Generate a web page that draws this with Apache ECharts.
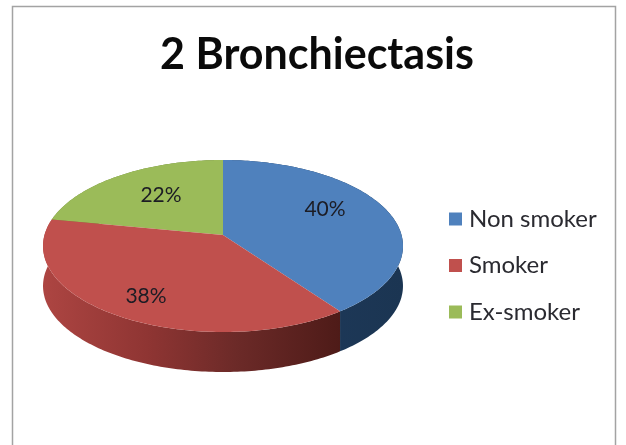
<!DOCTYPE html>
<html><head><meta charset="utf-8">
<style>html,body{margin:0;padding:0;background:#fff}#c{width:626px;height:445px}</style>
<script src="https://cdn.jsdelivr.net/npm/echarts@6/dist/echarts.min.js"></script>
</head><body><div id="c"></div>
<script>
const categories = ['Non smoker', 'Smoker', 'Ex-smoker'];
const values = [40, 38, 22];
const colors = ['#4F81BD', '#C0504D', '#9BBB59'];
const sideStops = [
  [[0, '#1F3B5E'], [1, '#1B3552']],
  [[0, '#AD4542'], [0.35, '#8F3533'], [0.65, '#6C2A28'], [1, '#4E1B18']],
  [[0, '#76903F'], [1, '#5F7632']]
];
const labelAnchors = [[325, 209], [146, 296], [161, 195]];

// perspective pie: projected disc with tilted viewpoint
const view = { cx: 223, cy: 235, a: 178.5, b: 84.6, k: 0.128, depth: 40 };
const total = values.reduce((s, v) => s + v, 0);
function rim(turn) {
  const t = turn * 2 * Math.PI, u = Math.sin(t), v = -Math.cos(t), w = 1 - view.k * v;
  return [view.cx + view.a * u / w, view.cy + view.b * v / w];
}
function arc(from, to) {
  const pts = [], n = Math.max(2, Math.ceil((to - from) * 360));
  for (let i = 0; i <= n; i++) pts.push(rim(from + (to - from) * i / n));
  return pts;
}
function makeRender(idx) {
  return function (params, api) {
    const value = api.value(0), start = api.value(1);
    const from = start / total, to = (start + value) / total;
    const edge = arc(from, to);
    const lower = edge.map(p => [p[0], p[1] + view.depth]).reverse();
    return {
      type: 'group',
      children: [
        { type: 'polygon', shape: { points: edge.concat(lower) },
          style: { fill: { type: 'linear', x: 0, y: 0, x2: 1, y2: 0,
            colorStops: sideStops[idx].map(s => ({ offset: s[0], color: s[1] })) } } },
        { type: 'polygon', shape: { points: [[view.cx, view.cy]].concat(edge) },
          style: { fill: colors[idx] } },
        { type: 'text', z2: 5, style: { x: labelAnchors[idx][0], y: labelAnchors[idx][1],
            text: value + '%', fill: '#1c1c24', font: '21px Lato', align: 'center', verticalAlign: 'middle' } }
      ]
    };
  };
}
let acc = 0;
const series = categories.map((name, i) => {
  const s = {
    type: 'custom', name, coordinateSystem: 'none', silent: true, animation: false,
    z: i === 2 ? 1 : 2,
    itemStyle: { color: colors[i] },
    data: [[values[i], acc]],
    renderItem: makeRender(i)
  };
  acc += values[i];
  return s;
});
const chart = echarts.init(document.getElementById('c'), null, { renderer: 'canvas' });
chart.setOption({
  backgroundColor: '#fff',
  animation: false,
  title: { text: '2 Bronchiectasis', left: 312, top: 29, textAlign: 'center',
    textStyle: { fontFamily: 'Lato', fontWeight: 'bold', fontSize: 43, color: '#0a0a0a' } },
  legend: { data: categories, orient: 'vertical', left: 444, top: 202, itemWidth: 13, itemHeight: 13,
    itemGap: 22.5, icon: 'rect', selectedMode: false,
    textStyle: { fontFamily: 'Lato', fontSize: 24, color: '#2a2a30', padding: [0, 0, 0, 2], lineHeight: 22 } },
  graphic: [{ type: 'rect', z: -1, shape: { x: 12.5, y: 6.5, width: 603, height: 470 },
    style: { fill: '#fff', stroke: '#a3a3a3', lineWidth: 1.5 } }],
  series
});
</script></body></html>
